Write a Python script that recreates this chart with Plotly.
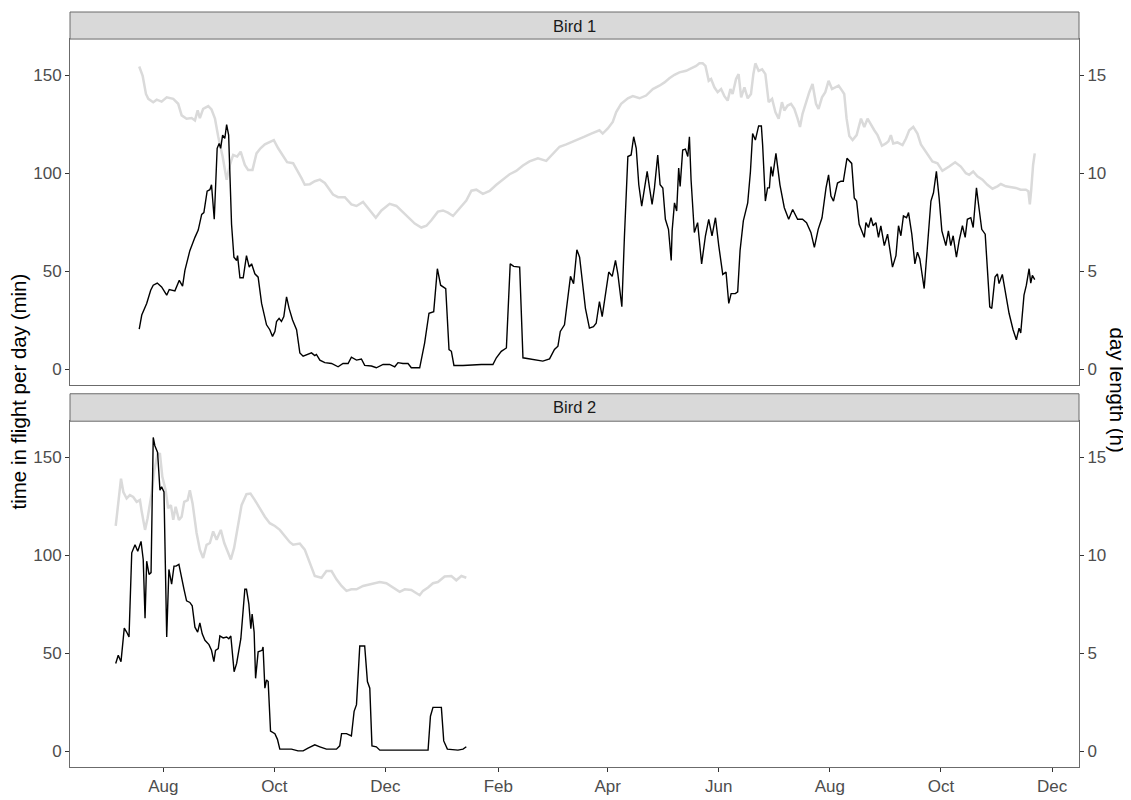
import numpy as np
import pandas as pd
import plotly.graph_objects as go

# ---------------- data ----------------
ref_date = "2019-08-01"          # day offsets below are relative to this date

# Bird 1 - time in flight per day (min)
b1_flight_day = [-13.2, -11.8, -9.1, -6.9, -5.5, -3.3, -0.9, 1.9, 3.3, 6.4, 8.8, 10.6, 11.9, 14.6, 17.4, 19.2,
                 21.1, 22.3, 24.1, 25.6, 26.5, 28.0, 29.6, 30.7, 31.5, 32.6, 33.8, 34.8, 35.9, 37.5, 38.8, 40.3,
                 40.8, 42.1, 43.9, 45.7, 47.2, 48.5, 50.3, 52.1, 54.0, 56.7, 58.5, 60.0, 61.3, 62.2, 63.6, 64.9,
                 66.2, 67.7, 69.1, 71.0, 73.2, 75.0, 76.8, 79.5, 81.4, 83.2, 84.1, 86.0, 88.7, 92.4, 96.0, 98.7,
                 101.5, 103.3, 106.1, 108.8, 110.6, 114.3, 117.0, 120.7, 124.3, 127.1, 128.9, 131.6, 134.4, 136.2,
                 140.8, 143.5, 145.9, 148.5, 149.6, 150.5, 152.3, 155.1, 156.9, 158.2, 159.6, 164.6, 174.6, 179.2,
                 181.0, 182.9, 185.6, 188.4, 190.5, 192.4, 195.7, 197.5, 201.1, 204.8, 208.4, 212.1, 214.8, 216.7,
                 218.0, 220.3, 222.1, 223.6, 225.3, 227.1, 228.6, 230.4, 231.8, 234.0, 236.2, 237.7, 239.5, 241.0,
                 243.2, 244.6, 246.5, 248.3, 249.6, 251.8, 253.2, 255.1, 256.9, 258.3, 259.7, 261.1, 262.7, 263.8,
                 265.7, 267.0, 268.4, 269.7, 271.5, 272.8, 274.3, 275.7, 277.4, 278.9, 279.4, 280.7, 281.9, 283.0,
                 283.8, 285.2, 286.7, 288.0, 288.9, 289.8, 291.6, 293.4, 295.6, 297.7, 299.5, 301.3, 303.2, 305.0,
                 307.2, 309.0, 310.5, 311.8, 314.1, 315.4, 316.7, 318.5, 320.9, 322.4, 323.6, 325.1, 326.9, 328.4,
                 329.1, 330.6, 331.8, 332.8, 333.7, 334.6, 336.4, 338.6, 341.0, 343.4, 345.6, 348.3, 351.0, 353.2,
                 355.6, 357.5, 359.6, 361.7, 363.9, 365.3, 366.6, 368.0, 370.2, 372.1, 373.4, 375.4, 376.7, 378.0,
                 379.4, 380.7, 382.1, 383.6, 384.9, 385.8, 387.2, 388.6, 389.8, 391.3, 392.7, 394.0, 395.9, 397.7,
                 400.4, 402.3, 403.7, 405.0, 406.4, 408.1, 409.2, 411.0, 412.7, 414.1, 415.4, 417.8, 420.0, 421.5,
                 422.9, 424.5, 426.0, 427.5, 429.7, 431.1, 432.4, 433.7, 435.5, 437.0, 438.8, 440.3, 441.5, 443.4,
                 444.7, 446.5, 448.0, 449.4, 451.3, 452.5, 453.8, 454.9, 456.7, 458.0, 458.9, 460.7, 462.2, 464.4,
                 466.6, 468.4, 469.9, 470.8, 472.6, 473.9, 475.4, 476.3, 477.2, 478.5]
b1_flight_min = [20.5, 27.7, 33.6, 40.3, 42.9, 44.0, 42.0, 37.8, 40.7, 40.0, 45.4, 42.4, 50.5, 60.5, 67.3, 71.0,
                 79.0, 79.9, 90.8, 91.6, 94.1, 76.5, 112.7, 115.2, 112.7, 119.4, 117.7, 124.8, 119.4, 74.0, 57.2, 55.5,
                 58.0, 46.7, 46.7, 58.0, 52.1, 53.8, 48.7, 47.0, 33.6, 22.7, 20.2, 16.8, 19.3, 24.4, 26.0, 24.4,
                 26.9, 37.0, 31.1, 25.2, 20.2, 8.4, 6.7, 7.6, 8.4, 7.0, 7.6, 4.7, 3.4, 3.0, 1.3, 3.0,
                 3.0, 6.2, 4.7, 5.3, 2.0, 1.7, 0.8, 2.5, 2.5, 1.3, 3.4, 3.0, 3.0, 0.8,
                 0.8, 13.4, 28.6, 29.4, 40.4, 51.3, 42.9, 41.2, 10.1, 9.2, 2.0, 2.0, 2.5, 2.5,
                 2.5, 5.9, 9.2, 10.9, 53.8, 52.5, 52.1, 5.9, 5.3, 4.7, 4.2, 5.3, 10.1, 11.8,
                 19.3, 22.7, 35.3, 47.4, 43.7, 61.0, 57.2, 40.4, 31.1, 21.0, 21.8, 23.5, 34.5, 26.9,
                 40.4, 49.6, 47.4, 55.5, 48.7, 31.9, 67.3, 108.5, 109.3, 118.6, 112.7, 94.1, 83.2, 90.0,
                 100.9, 92.5, 84.1, 92.5, 109.3, 94.1, 92.5, 76.5, 71.4, 55.5, 70.6, 84.9, 80.7, 102.6,
                 93.3, 111.8, 112.3, 108.5, 118.6, 96.7, 69.8, 74.8, 53.8, 68.1, 76.5, 68.1, 77.3, 63.1,
                 48.4, 49.6, 33.6, 38.6, 38.6, 39.5, 60.5, 75.7, 84.9, 100.9, 120.2, 116.9, 124.1, 124.1,
                 114.3, 85.8, 92.5, 92.5, 103.4, 98.4, 110.1, 94.1, 82.4, 76.5, 81.5, 76.5, 76.5, 74.8,
                 69.8, 62.2, 71.4, 77.3, 92.5, 99.2, 88.3, 85.8, 95.0, 95.9, 95.9, 107.6, 106.0, 105.0,
                 87.4, 85.8, 74.0, 70.6, 67.3, 74.8, 72.3, 77.3, 73.2, 74.8, 67.3, 73.2, 63.1, 68.9,
                 52.1, 58.0, 73.2, 68.1, 78.2, 77.3, 79.9, 68.9, 53.8, 59.7, 56.3, 41.2, 69.8, 85.8,
                 90.0, 100.9, 87.4, 70.6, 63.1, 70.6, 63.1, 68.1, 57.2, 65.6, 73.2, 67.3, 76.5, 77.3,
                 72.3, 92.5, 81.5, 71.4, 68.9, 50.5, 31.9, 31.1, 47.1, 48.7, 43.7, 48.4, 40.4, 28.6,
                 20.2, 15.1, 21.0, 18.5, 37.8, 42.9, 51.3, 44.0, 47.9, 45.7]

# Bird 1 - day length (h)
b1_daylen_day = [-13.2, -11.3, -9.5, -8.2, -5.5, -3.6, -0.9, 1.9, 5.5, 8.2, 10.1, 12.8, 15.6, 17.4, 18.9, 20.1,
                 21.9, 24.7, 26.5, 28.4, 30.2, 32.6, 34.8, 36.6, 38.4, 40.6, 42.5, 44.8, 46.6, 49.0, 51.2, 53.4,
                 55.8, 58.5, 60.7, 63.1, 65.8, 68.0, 71.3, 73.5, 75.9, 77.7, 80.5, 83.2, 86.0, 88.7, 93.2, 96.0,
                 99.7, 103.3, 106.1, 109.7, 113.0, 116.7, 119.8, 124.3, 128.0, 130.8, 134.4, 138.1, 141.7, 144.5,
                 147.2, 150.8, 153.6, 156.3, 159.1, 162.7, 166.4, 169.2, 171.9, 175.5, 179.2, 182.9, 186.5, 190.2,
                 193.8, 197.5, 201.1, 205.7, 210.3, 213.9, 217.6, 221.3, 224.0, 227.6, 231.3, 235.0, 239.5, 241.3,
                 244.1, 246.8, 248.7, 251.4, 255.1, 257.8, 261.5, 265.1, 268.8, 272.4, 275.2, 277.9, 280.7, 283.4,
                 287.1, 289.8, 292.6, 294.4, 296.2, 297.7, 299.5, 300.8, 302.6, 304.4, 306.3, 308.1, 309.9, 311.4,
                 312.6, 314.5, 315.9, 317.3, 319.1, 320.9, 322.7, 324.0, 325.1, 326.9, 328.8, 330.6, 332.4, 334.3,
                 336.1, 337.9, 339.7, 341.0, 342.8, 344.7, 346.5, 348.3, 349.6, 351.0, 352.9, 354.7, 356.5, 358.4,
                 359.8, 361.7, 363.5, 365.3, 367.2, 369.0, 370.8, 372.7, 373.9, 375.2, 376.7, 378.5, 380.7, 383.1,
                 384.9, 386.7, 388.6, 390.4, 392.2, 394.6, 396.8, 398.2, 399.5, 400.8, 403.1, 405.9, 407.8, 409.6,
                 411.8, 414.1, 416.0, 418.7, 422.3, 425.1, 427.8, 431.5, 434.8, 437.9, 440.7, 442.5, 444.7, 447.0,
                 449.8, 452.5, 455.3, 458.0, 459.9, 462.6, 465.4, 468.1, 470.8, 473.6, 475.0, 475.8, 476.5, 477.6,
                 478.5]
b1_daylen_h = [15.44, 14.96, 14.04, 13.79, 13.62, 13.75, 13.65, 13.87, 13.79, 13.54, 12.95, 12.78, 12.81, 12.69, 13.20, 12.81,
               13.28, 13.42, 13.25, 12.78, 11.86, 10.85, 9.67, 10.42, 10.93, 10.85, 11.10, 10.42, 10.17, 10.17, 11.01, 11.27,
               11.47, 11.60, 11.69, 11.27, 10.85, 10.56, 10.51, 10.17, 9.75, 9.41, 9.44, 9.59, 9.67, 9.50, 8.91, 8.78,
               8.78, 8.41, 8.33, 8.54, 8.15, 7.73, 8.10, 8.44, 8.33, 8.07, 7.73, 7.43, 7.23, 7.32,
               7.60, 8.04, 8.10, 7.99, 7.82, 8.24, 8.61, 9.11, 9.16, 8.95, 9.10, 9.41, 9.67, 9.95,
               10.12, 10.39, 10.60, 10.76, 10.63, 11.01, 11.35, 11.47, 11.57, 11.69, 11.86, 12.02, 12.19, 12.02,
               12.28, 12.61, 13.12, 13.54, 13.82, 13.93, 13.82, 13.96, 14.29, 14.46, 14.63, 14.84, 15.02, 15.14,
               15.22, 15.34, 15.47, 15.60, 15.60, 15.47, 14.71, 14.80, 14.38, 14.13, 14.29, 13.93, 13.70, 14.29,
               14.04, 14.80, 15.05, 13.87, 14.38, 13.82, 14.04, 15.05, 15.60, 15.22, 15.30, 15.05, 13.62, 13.79,
               13.12, 12.78, 13.62, 13.20, 13.45, 13.54, 13.28, 12.78, 12.36, 13.03, 13.62, 14.13, 14.55, 13.54,
               13.28, 13.87, 14.13, 14.71, 14.29, 14.38, 14.46, 14.21, 14.04, 12.78, 11.90, 11.69, 11.94, 12.78,
               12.36, 12.78, 12.44, 12.19, 11.94, 11.40, 11.52, 11.63, 11.94, 11.52, 11.57, 11.43, 11.77, 12.19,
               12.36, 12.02, 11.47, 11.10, 10.60, 10.51, 10.12, 10.34, 10.56, 10.34, 10.00, 9.92, 10.09, 9.84,
               9.67, 9.41, 9.21, 9.33, 9.45, 9.33, 9.28, 9.25, 9.16, 9.16, 9.08, 8.41, 9.08, 10.42,
               11.01]

# Bird 2 - time in flight per day (min)
b2_flight_day = [-26.1, -24.7, -23.2, -21.4, -20.1, -18.8, -17.3, -15.5, -14.0, -12.2, -11.0, -10.0, -9.1, -7.8, -6.7, -5.5,
                 -4.6, -3.1, -1.8, -0.9, 0.4, 1.9, 3.1, 4.6, 5.9, 7.0, 8.6, 10.1, 11.4, 12.8, 14.6, 15.9,
                 17.4, 18.9, 20.1, 21.4, 22.9, 25.1, 26.5, 27.8, 28.7, 30.2, 31.1, 32.9, 34.8, 36.0, 37.1, 38.9,
                 40.3, 42.6, 43.9, 44.8, 45.7, 47.0, 48.1, 48.8, 49.9, 50.7, 52.1, 54.3, 54.8, 55.8, 56.7, 57.6,
                 58.9, 61.3, 62.7, 64.0, 66.8, 70.4, 74.0, 76.8, 79.5, 83.2, 86.0, 89.6, 95.1, 96.9, 97.9, 100.6,
                 103.3, 104.8, 106.1, 107.3, 107.9, 110.6, 112.1, 113.4, 114.6, 117.0, 118.9, 130.8, 145.4, 146.7,
                 148.1, 152.7, 154.0, 156.0, 161.8, 164.6, 166.4]
b2_flight_min = [44.9, 49.1, 45.8, 62.9, 60.9, 58.4, 101.3, 105.4, 102.1, 107.1, 97.9, 68.0, 97.0, 90.3, 91.2, 160.1,
                 155.9, 152.5, 133.2, 134.9, 132.3, 58.4, 92.8, 85.3, 94.5, 94.5, 95.4, 87.8, 82.7, 76.8, 76.0, 74.3,
                 63.4, 60.9, 65.6, 60.0, 56.7, 54.5, 51.6, 45.8, 51.6, 52.5, 58.9, 57.9, 58.4, 57.5, 58.9, 40.7,
                 44.9, 57.5, 71.8, 82.7, 82.7, 75.2, 62.6, 70.1, 60.9, 37.3, 50.8, 51.6, 53.3, 32.3, 36.5, 35.7,
                 10.4, 9.1, 6.2, 1.2, 1.2, 1.2, 0.3, 0.3, 1.7, 3.4, 2.4, 1.2, 1.2, 2.9, 9.1, 9.1,
                 7.9, 20.5, 23.9, 47.4, 53.8, 53.8, 35.7, 32.3, 2.9, 2.4, 0.7, 0.7, 0.7, 18.0,
                 22.5, 22.5, 5.4, 1.2, 0.7, 1.2, 2.4]

# Bird 2 - day length (h)
b2_daylen_day = [-26.1, -24.7, -23.2, -21.9, -20.1, -18.3, -16.5, -14.6, -12.8, -11.8, -10.0, -8.6, -7.3, -6.4, -4.9, -3.1,
                 -1.8, -0.5, 1.3, 2.7, 4.2, 5.5, 6.8, 8.6, 10.1, 11.5, 13.4, 14.6, 16.1, 18.3, 20.1, 21.9,
                 23.8, 25.6, 27.4, 29.3, 31.6, 33.5, 35.3, 37.1, 38.9, 40.8, 43.0, 45.7, 47.9, 50.3, 53.0, 55.8,
                 58.5, 61.3, 64.0, 66.8, 69.5, 71.3, 75.0, 77.7, 80.5, 83.2, 86.9, 89.6, 92.4, 95.1, 97.9, 100.6,
                 103.3, 106.1, 109.7, 113.4, 116.1, 118.9, 122.5, 126.2, 129.8, 132.6, 136.2, 138.4, 140.8, 142.6,
                 145.4, 148.1, 150.8, 154.5, 158.2, 160.9, 163.7, 166.4]
b2_daylen_h = [11.50, 12.65, 13.91, 13.23, 12.90, 13.07, 12.98, 12.73, 12.82, 12.22, 11.30, 11.89, 12.65, 13.15, 14.33, 15.17,
               15.17, 14.00, 13.32, 12.40, 12.56, 11.81, 12.48, 11.81, 11.97, 12.73, 12.82, 13.32, 12.65, 11.14, 10.29, 9.87,
               10.54, 10.63, 11.22, 10.80, 11.30, 10.63, 10.21, 9.79, 10.38, 11.30, 12.56, 13.12, 13.15, 12.82, 12.40, 11.97,
               11.64, 11.50, 11.30, 10.96, 10.67, 10.54, 10.60, 10.29, 9.62, 8.95, 8.86, 9.20, 9.20, 8.78, 8.44, 8.19,
               8.27, 8.27, 8.44, 8.53, 8.61, 8.64, 8.58, 8.36, 8.14, 8.27, 8.24, 8.11, 7.97, 8.19,
               8.36, 8.58, 8.64, 8.92, 8.95, 8.73, 8.95, 8.86]

panel_titles = ["Bird 1", "Bird 2"]
min_ticks = [0, 50, 100, 150]
hour_ticks = [0, 5, 10, 15]
x_range_days = [-51.2, 502.8]
min_range = [-7.9, 168.4]
hour_range = [-0.79, 16.84]


def to_dates(days):
    return pd.Timestamp(ref_date) + pd.to_timedelta(np.array(days, dtype=float), unit="D")


# ---------------- figure ----------------
BLACK = "#000000"
GREY_LINE = "#DADADA"
BORDER = "#6b6b6b"
TICKCOL = "#4D4D4D"
FONT = "Liberation Sans, Arial, Helvetica, sans-serif"

fig = go.Figure()

# day length (drawn on base axes -> behind)
fig.add_trace(go.Scatter(x=to_dates(b1_daylen_day), y=b1_daylen_h, mode="lines",
                         line=dict(color=GREY_LINE, width=2.5), xaxis="x", yaxis="y", showlegend=False))
fig.add_trace(go.Scatter(x=to_dates(b2_daylen_day), y=b2_daylen_h, mode="lines",
                         line=dict(color=GREY_LINE, width=2.5), xaxis="x2", yaxis="y3", showlegend=False))
# flight time (overlay axes -> on top)
fig.add_trace(go.Scatter(x=to_dates(b1_flight_day), y=b1_flight_min, mode="lines",
                         line=dict(color=BLACK, width=1.4), xaxis="x", yaxis="y2", showlegend=False))
fig.add_trace(go.Scatter(x=to_dates(b2_flight_day), y=b2_flight_min, mode="lines",
                         line=dict(color=BLACK, width=1.4), xaxis="x2", yaxis="y4", showlegend=False))

# The page body has an 8px margin, so the figure is drawn 8px in from the top-left corner.
OFF = 8
W, H = 1131 - OFF, 800 - OFF
L_M, R_M, T_M, B_M = 70 - OFF, W - (1079 - OFF), 12 - OFF, H - (774 - OFF)
PH = H - T_M - B_M
PW = W - L_M - R_M


def fy(px):      # page pixel (y) -> paper fraction
    return (H - B_M - (px - OFF)) / PH


def fx(px):      # page pixel (x) -> paper fraction
    return (px - OFF - L_M) / PW


top_dom = [fy(388.3), fy(39.3)]
bot_dom = [0.0, fy(425.0)]
strip_top = [fy(39.3), 1.0]
strip_bot = [fy(425.0), fy(397.3)]

x_range = [str(d) for d in to_dates(x_range_days)]

tickfont = dict(family=FONT, size=17, color=TICKCOL)

common_y = dict(showgrid=False, zeroline=False, ticks="outside", ticklen=4, tickwidth=1,
                tickcolor="#333333", tickfont=tickfont)

fig.update_layout(
    width=W, height=H,
    margin=dict(l=L_M, r=R_M, t=T_M, b=B_M),
    paper_bgcolor="white", plot_bgcolor="white",
    font=dict(family=FONT),
    xaxis=dict(domain=[0, 1], anchor="y", range=x_range, type="date", showgrid=False, zeroline=False,
               showticklabels=False, ticks="", showline=True, mirror=True, linecolor=BORDER, linewidth=1),
    xaxis2=dict(domain=[0, 1], anchor="y3", range=x_range, type="date", matches="x", showgrid=False,
                zeroline=False, ticks="outside", ticklen=4, tickcolor="#333333", tickfont=tickfont,
                tick0=ref_date, dtick="M2", tickformat="%b", showline=True, mirror=True,
                linecolor=BORDER, linewidth=1),
    yaxis=dict(domain=top_dom, anchor="x", side="right", range=hour_range, tickvals=hour_ticks,
               showline=True, mirror=True, linecolor=BORDER, linewidth=1, **common_y),
    yaxis2=dict(anchor="x", overlaying="y", side="left", range=min_range, tickvals=min_ticks,
                showline=False, **common_y),
    yaxis3=dict(domain=bot_dom, anchor="x2", side="right", range=hour_range, tickvals=hour_ticks,
                showline=True, mirror=True, linecolor=BORDER, linewidth=1, **common_y),
    yaxis4=dict(anchor="x2", overlaying="y3", side="left", range=min_range, tickvals=min_ticks,
                showline=False, **common_y),
)

# facet strips
for (y0, y1), title in zip([strip_top, strip_bot], panel_titles):
    fig.add_shape(type="rect", xref="paper", yref="paper", x0=0, x1=1, y0=y0, y1=y1,
                  fillcolor="#D9D9D9", line=dict(color=BORDER, width=1), layer="above")
    fig.add_annotation(xref="paper", yref="paper", x=0.5, y=(y0 + y1) / 2, text=title, showarrow=False,
                       xanchor="center", yanchor="middle", font=dict(family=FONT, size=16.5, color="#1A1A1A"))

# axis titles
fig.add_annotation(xref="paper", yref="paper", x=fx(18), y=fy(395), text="time in flight per day (min)",
                   textangle=-90, showarrow=False, xanchor="center", yanchor="middle",
                   font=dict(family=FONT, size=20.5, color="#000000"))
fig.add_annotation(xref="paper", yref="paper", x=fx(1117), y=fy(393), text="day length (h)",
                   textangle=90, showarrow=False, xanchor="center", yanchor="middle",
                   font=dict(family=FONT, size=20.5, color="#000000"))

fig.write_html("out.html")
